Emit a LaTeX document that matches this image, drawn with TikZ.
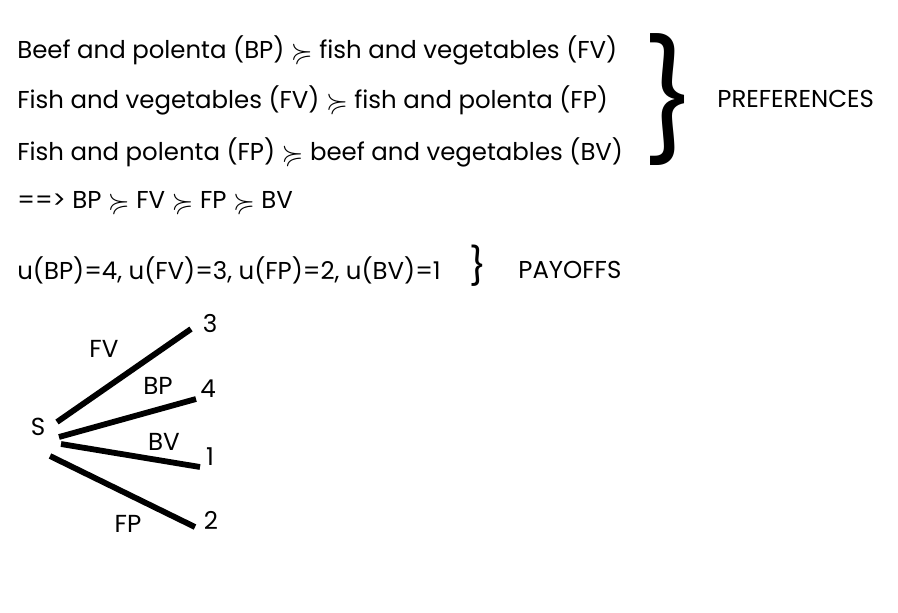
\documentclass[tikz,border=0pt]{standalone}
\usepackage{amssymb}
\usepackage{graphicx}
\usepackage{fontspec}
\setmainfont{Poppins}
\usetikzlibrary{positioning}

\newcommand{\pref}{\raisebox{-0.15ex}{\scalebox{1.15}{$\succcurlyeq$}}}

\begin{document}
\begin{tikzpicture}[x=0.02cm,y=-0.02cm,
  txt/.style={anchor=base west,inner sep=0pt,font=\fontsize{13.9}{16}\selectfont},
  lbl/.style={inner sep=0pt,font=\fontsize{14}{16}\selectfont},
  branch/.style={black,line width=3.3pt}]

\useasboundingbox (0,0) rectangle (898,612);

% preferences
\node[txt] (prefA) at (17,58) {Beef and polenta (BP) \pref{} fish and vegetables (FV)};
\node[txt] (prefB) at (17,108) {Fish and vegetables (FV) \pref{} fish and polenta (FP)};
\node[txt] (prefC) at (17,160) {Fish and polenta (FP) \pref{} beef and vegetables (BV)};
\node[txt] (order) at (17,208) {==> BP \pref{} FV \pref{} FP \pref{} BV};

\node at (670,99.5) [inner sep=0pt,font=\fontsize{67}{67}\selectfont] (bigbrace) {\}};
\node[txt] (preflabel) at (717,107) {PREFERENCES};

% payoffs
\node[txt] (payoffs) at (17,279) {u(BP)=4, u(FV)=3, u(FP)=2, u(BV)=1};
\node at (478,266) [inner sep=0pt,font=\fontsize{21}{21}\selectfont] (smallbrace) {\}};
\node[txt] (paylabel) at (518,278) {PAYOFFS};

% tree
\node[lbl] (S) at (38,427) {S};
\node[lbl] (t3) at (210,323) {3};
\node[lbl] (t4) at (208,389) {4};
\node[lbl] (t1) at (210,457) {1};
\node[lbl] (t2) at (211,520) {2};

\draw[branch] ([shift={(19,-5)}]S.center) -- ([shift={(-19,6)}]t3.center);
\draw[branch] ([shift={(21,10)}]S.center) -- ([shift={(-12,10)}]t4.center);
\draw[branch] ([shift={(23,17)}]S.center) -- ([shift={(-10,10)}]t1.center);
\draw[branch] ([shift={(12,29)}]S.center) -- ([shift={(-16,7)}]t2.center);

\node[lbl] (lFV) at (104,349) {FV};
\node[lbl] (lBP) at (158,386) {BP};
\node[lbl] (lBV) at (164,442) {BV};
\node[lbl] (lFP) at (128,524) {FP};

\end{tikzpicture}
\end{document}
